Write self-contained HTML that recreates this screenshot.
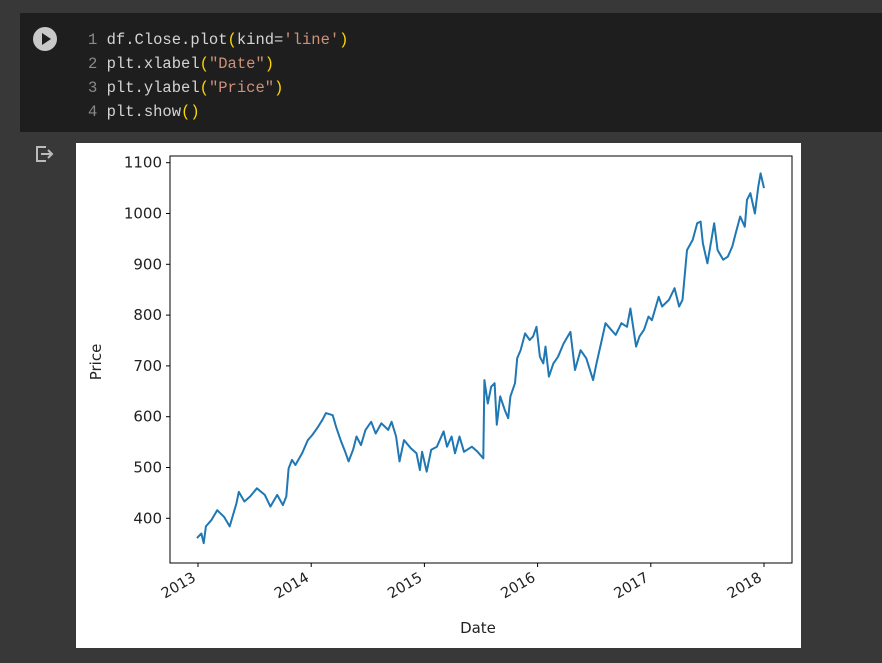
<!DOCTYPE html>
<html><head><meta charset="utf-8"><style>
body{margin:0;width:882px;height:663px;background:#383838;overflow:hidden;position:relative;font-family:"Liberation Sans",sans-serif}
#cell{position:absolute;left:20px;top:13px;width:862px;height:119px;background:#1e1e1e}
#run{position:absolute;left:33px;top:27px;width:24px;height:24px;border-radius:50%;background:#c9c9c9}
#run:after{content:"";position:absolute;left:9px;top:6px;border-left:9px solid #1e1e1e;border-top:6px solid transparent;border-bottom:6px solid transparent}
#code{position:absolute;left:88px;top:28px;font-family:"Liberation Mono","DejaVu Sans Mono",monospace;font-size:15.5px;line-height:24px;color:#d4d4d4;white-space:pre}
.ln{color:#8a8a8a}.s{color:#ce9178}.p{color:#ffd700}
#outicon{position:absolute;left:34px;top:144px;width:20px;height:20px}
#out{position:absolute;left:76px;top:143px;width:725px;height:505px;background:#fff}
</style></head><body>
<div id="cell"></div>
<div id="run"></div>
<div id="code"><span class="ln">1 </span>df.Close.plot<span class="p">(</span>kind=<span class="s">'line'</span><span class="p">)</span>
<span class="ln">2 </span>plt.xlabel<span class="p">(</span><span class="s">"Date"</span><span class="p">)</span>
<span class="ln">3 </span>plt.ylabel<span class="p">(</span><span class="s">"Price"</span><span class="p">)</span>
<span class="ln">4 </span>plt.show<span class="p">()</span></div>
<svg id="outicon" viewBox="0 0 20 20"><path d="M12 3H3v14h9M7 10h11M14 6l4 4-4 4" fill="none" stroke="#bbb" stroke-width="2"/></svg>
<div id="out"></div>
<svg id="chart" width="882" height="663" style="position:absolute;left:0;top:0"></svg>
<script>
const dates=[2012.99,2013.03,2013.05,2013.07,2013.12,2013.17,2013.23,2013.28,2013.34,2013.36,2013.41,2013.46,2013.52,2013.59,2013.64,2013.70,2013.75,2013.78,2013.80,2013.83,2013.86,2013.92,2013.97,2014.01,2014.06,2014.10,2014.13,2014.19,2014.22,2014.26,2014.30,2014.33,2014.37,2014.40,2014.44,2014.48,2014.53,2014.57,2014.62,2014.68,2014.71,2014.75,2014.78,2014.82,2014.88,2014.93,2014.96,2014.98,2015.02,2015.06,2015.11,2015.17,2015.20,2015.24,2015.27,2015.31,2015.35,2015.42,2015.47,2015.52,2015.53,2015.56,2015.59,2015.62,2015.64,2015.67,2015.71,2015.74,2015.76,2015.80,2015.82,2015.85,2015.89,2015.93,2015.96,2015.99,2016.02,2016.05,2016.07,2016.10,2016.14,2016.18,2016.23,2016.29,2016.33,2016.38,2016.43,2016.49,2016.52,2016.56,2016.60,2016.65,2016.69,2016.74,2016.79,2016.82,2016.87,2016.90,2016.94,2016.98,2017.01,2017.07,2017.10,2017.16,2017.21,2017.25,2017.28,2017.32,2017.37,2017.41,2017.44,2017.46,2017.50,2017.54,2017.56,2017.59,2017.64,2017.68,2017.72,2017.75,2017.79,2017.83,2017.85,2017.88,2017.92,2017.95,2017.97,2018.00];
const prices=[361,370,351,384,397,416,403,384,430,452,433,443,459,446,423,446,426,443,498,515,505,528,554,564,580,594,607,603,580,554,531,512,535,561,544,574,590,567,587,574,590,561,512,554,538,528,495,531,492,535,541,571,541,561,528,561,531,541,531,518,672,626,659,666,584,640,613,597,640,666,715,731,764,751,758,777,718,705,738,679,705,718,744,767,692,731,715,672,705,744,784,771,761,784,777,813,738,758,771,797,790,836,817,830,853,817,830,928,948,981,984,941,902,954,981,928,909,915,935,961,994,974,1027,1040,1000,1053,1079,1050];
const yTicks=[400,500,600,700,800,900,1000,1100];
const xTicks=[2013,2014,2015,2016,2017,2018];
const NS="http://www.w3.org/2000/svg";
const svg=document.getElementById('chart');
const L=170,R=792,T=156,B=563;
const xs=d=>198+(d-2013)*113.2;
const ys=p=>518.3-(p-400)*0.508;
function mk(t,a){const e=document.createElementNS(NS,t);for(const k in a)e.setAttribute(k,a[k]);svg.appendChild(e);return e;}
const frame=mk('rect',{x:L,y:T,width:R-L,height:B-T,fill:'none',stroke:'#000','stroke-width':1});


let d='';
dates.forEach((x,i)=>{d+=(i?'L':'M')+xs(x).toFixed(1)+','+ys(prices[i]).toFixed(1);});
const line=mk('path',{d:d,fill:'none',stroke:'#1f77b4','stroke-width':2,'stroke-linejoin':'round'});


yTicks.forEach(v=>{
  const y=ys(v);
  const tk=mk('line',{x1:L-4,x2:L,y1:y,y2:y,stroke:'#000'});
  
  
  const t=mk('text',{x:L-8,y:y+5,'text-anchor':'end','font-size':15,'font-family':'DejaVu Sans, Liberation Sans, sans-serif',fill:'#222'});
  t.textContent=v;
  
  
});
xTicks.forEach(v=>{
  const x=xs(v);
  const tk=mk('line',{x1:x,x2:x,y1:B,y2:B+4,stroke:'#000'});
  
  
  const ax=x-6, ay=B+9;
  const t=mk('text',{x:ax,y:ay,'text-anchor':'end','font-size':14.5,'font-family':'DejaVu Sans, Liberation Sans, sans-serif',fill:'#222',transform:`rotate(-30 ${ax} ${ay})`,'dominant-baseline':'hanging'});
  t.textContent=v;
  
  
});
const xl=mk('text',{x:478,y:633,'text-anchor':'middle','font-size':15,'font-family':'DejaVu Sans, Liberation Sans, sans-serif',fill:'#222'});
xl.textContent='Date';


const yl=mk('text',{x:101,y:362,'text-anchor':'middle','font-size':15,'font-family':'DejaVu Sans, Liberation Sans, sans-serif',fill:'#222',transform:'rotate(-90 101 362)'});
yl.textContent='Price';


</script>
</body></html>
